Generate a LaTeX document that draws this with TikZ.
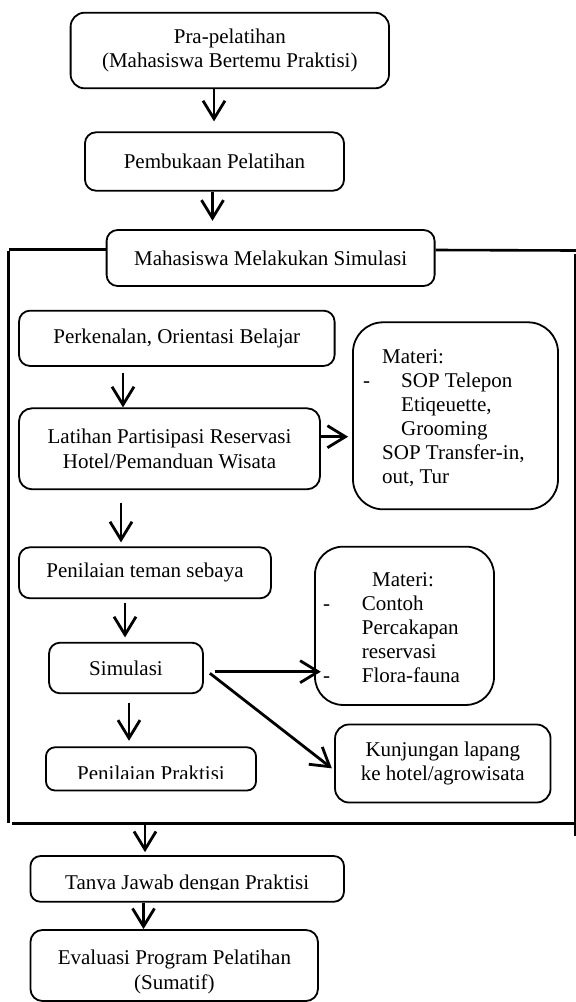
\documentclass[tikz,border=0pt]{standalone}
\usepackage{fontspec}
\setmainfont{Liberation Serif}
\usetikzlibrary{arrows.meta}
\begin{document}
\begin{tikzpicture}[x=1pt,y=-1pt,
  tx/.style={font=\fontsize{21pt}{24.5pt}\selectfont, inner sep=0pt},
  rbox/.style={tx, draw, line width=1.8pt, rounded corners=11pt, align=center},
  mbox/.style={draw, line width=1.8pt, inner sep=0pt},
  arr/.style={line width=2.8pt, -{Straight Barb[length=18pt,width=22pt]}},
  frametop/.style={line width=2.6pt}]
\useasboundingbox (0,0) rectangle (576,1002);

% main boxes
\node[rbox, rounded corners=14pt, minimum width=318.4pt, minimum height=75.6pt] (b1) at (229.8,50.5) {Pra-pelatihan\\(Mahasiswa Bertemu Praktisi)};
\node[rbox, minimum width=259pt, minimum height=58.4pt] (b2) at (214.5,161.5) {Pembukaan Pelatihan};
\node[rbox, minimum width=328pt, minimum height=56pt] (b3) at (270.6,258) {Mahasiswa Melakukan Simulasi};
\node[rbox, minimum width=315.6pt, minimum height=55.3pt] (pk) at (176.8,338.3) {Perkenalan, Orientasi Belajar};
\node[rbox, rounded corners=13pt, minimum width=301pt, minimum height=81pt] (lt) at (169.5,448.8) {Latihan Partisipasi Reservasi\\Hotel/Pemanduan Wisata};
\node[rbox, minimum width=252pt, minimum height=51pt] (pt) at (145,572.8) {Penilaian teman sebaya};
\node[rbox, minimum width=154pt, minimum height=50.6pt] (sm) at (126,668) {Simulasi};
\node[rbox, rounded corners=9pt, minimum width=210pt, minimum height=43.2pt] (pp) at (151,768.9) {};
\node[rbox, rounded corners=14pt, minimum width=215.5pt, minimum height=78pt] (kj) at (442.8,763.5) {Kunjungan lapang\\ke hotel/agrowisata};
\node[rbox, rounded corners=10pt, minimum width=313.5pt, minimum height=45.7pt] (tj) at (187.2,878.9) {};
\node[rbox, rounded corners=12pt, minimum width=287.5pt, minimum height=71pt] (ev) at (174.2,965.5) {};
\node[tx, align=center] (evt) at (174.4,972) {Evaluasi Program Pelatihan\\(Sumatif)};

% clipped texts
\begin{scope}
  \clip (46,747) rectangle (256,778);
  \node[tx, anchor=base] (ppt) at (151,780) {Penilaian Praktisi};
\end{scope}
\begin{scope}
  \clip (30,856) rectangle (344,889.8);
  \node[tx, anchor=base] (tjt) at (187.2,889) {Tanya Jawab dengan Praktisi};
\end{scope}

% materi boxes
\node[mbox, rounded corners=30pt, minimum width=205pt, minimum height=187pt] (m1) at (455.5,415.8) {};
\node[tx, anchor=base west] (m1a) at (382,363) {Materi:};
\node[tx, anchor=base west] (m1d) at (363,387) {-};
\node[tx, anchor=base west] (m1b) at (401,387) {SOP Telepon};
\node[tx, anchor=base west] (m1c) at (401,411) {Etiqeuette,};
\node[tx, anchor=base west] (m1e) at (401,435) {Grooming};
\node[tx, anchor=base west] (m1f) at (382,459) {SOP Transfer-in,};
\node[tx, anchor=base west] (m1g) at (382,483) {out, Tur};

\node[mbox, rounded corners=28pt, minimum width=179pt, minimum height=158.3pt] (m2) at (404.5,625.8) {};
\node[tx, anchor=base] (m2a) at (403,586) {Materi:};
\node[tx, anchor=base west] (m2d1) at (323,610) {-};
\node[tx, anchor=base west] (m2b) at (361.7,610) {Contoh};
\node[tx, anchor=base west] (m2c) at (361.7,634) {Percakapan};
\node[tx, anchor=base west] (m2e) at (361.7,658) {reservasi};
\node[tx, anchor=base west] (m2d2) at (323,682) {-};
\node[tx, anchor=base west] (m2f) at (361.7,682) {Flora-fauna};

% frame
\coordinate (ftl) at (8.5,249.3);
\coordinate (ftr) at (576,250.5);
\coordinate (fl1) at (8.5,251);
\coordinate (fl2) at (8.5,822.7);
\coordinate (fr1) at (575,254);
\coordinate (fr2) at (575,836);
\coordinate (fb1) at (12,823.3);
\coordinate (fb2) at (576,823.3);
\coordinate (fa) at (145,823.3);
\draw[frametop] (ftl) -- ([yshift=8.7pt]b3.west);
\draw[frametop] ([yshift=8pt]b3.east) -- (ftr);
\draw[line width=3pt] (fl1) -- (fl2);
\draw[line width=2.4pt] (fr1) -- (fr2);
\draw[line width=3.5pt] (fb1) -- (fb2);

% arrows
\draw[arr] ([xshift=-15.8pt]b1.south) -- ([xshift=-0.5pt,yshift=10pt]b2.north);
\draw[arr] ([xshift=-2pt]b2.south) -- ([xshift=-58.1pt,yshift=8.3pt]b3.north);
\draw[arr] ([xshift=-53.8pt,yshift=-5.7pt]pk.south) -- ([xshift=-46.5pt]lt.north);
\draw[arr] ([yshift=12.1pt]lt.east) -- ([xshift=-4pt,yshift=-20.9pt]m1.west);
\draw[arr] ([xshift=-48.5pt,yshift=-12.4pt]lt.south) -- ([xshift=-24pt,yshift=4pt]pt.north);
\draw[arr] ([xshift=-20pt,yshift=-3.4pt]pt.south) -- ([xshift=-1pt,yshift=4.4pt]sm.north);
\draw[arr] ([xshift=11pt,yshift=-3.7pt]sm.east) -- ([xshift=6.7pt,yshift=-45.9pt]m2.west);
\draw[arr] ([xshift=6pt,yshift=-5.3pt]sm.east) -- ([xshift=-2.3pt,yshift=-4.8pt]kj.west);
\draw[arr] ([xshift=3pt,yshift=-8.4pt]sm.south) -- ([xshift=-22pt,yshift=5.6pt]pp.north);
\draw[arr] (fa) -- ([xshift=-42.2pt,yshift=3pt]tj.north);
\draw[arr] ([xshift=-43.7pt]tj.south) -- ([xshift=-30.7pt]ev.north);
\end{tikzpicture}
\end{document}
